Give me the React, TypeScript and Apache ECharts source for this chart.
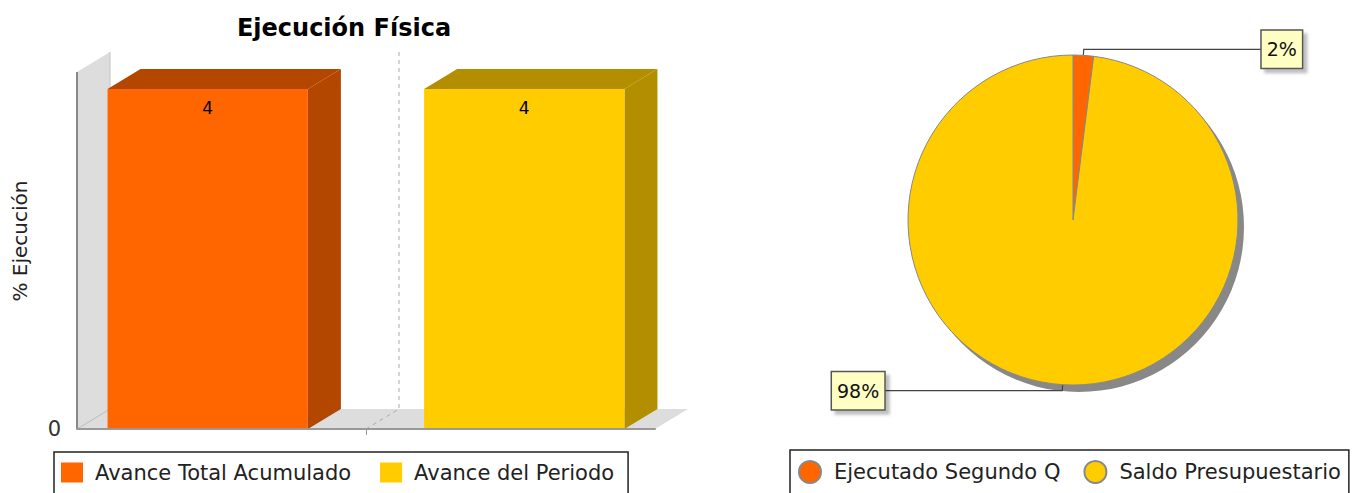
import React, { useEffect, useRef } from "react";
import * as echarts from "echarts";

const categories = [""];
const barSeriesNames = ["Avance Total Acumulado", "Avance del Periodo"];
const barValues = [4, 4];
const barColors = ["#ff6600", "#ffcc00"];
const barDarkColors = ["#b34700", "#b38f00"];

const pieNames = ["Ejecutado Segundo Q", "Saldo Presupuestario"];
const pieValues = [2, 98];
const pieColors = ["#ff6600", "#ffcc00"];

const yTickLabels = ["0"];

const FONT = "DejaVu Sans";
const DX = 33;
const DY = -20;
const BAR_FRAC = 200 / 577;
const GAP_FRAC = 116 / 577;

export default function App() {
  const ref = useRef<HTMLDivElement>(null);
  useEffect(() => {
    if (!ref.current) return;
    const chart = echarts.init(ref.current, undefined, { renderer: "svg" });

    const bgSeries: any = {
      type: "custom",
      name: "bg",
      silent: true,
      xAxisIndex: 0,
      yAxisIndex: 0,
      data: [[0, 0]],
      encode: { x: 0, y: 1 },
      z: 1,
      renderItem: (params: any, api: any) => {
        const cs = params.coordSys;
        const x = cs.x;
        const top = cs.y;
        const bottom = cs.y + cs.height;
        const right = cs.x + cs.width;
        const c = api.coord([0, 0]);
        const cx = c[0];
        return {
          type: "group",
          children: [
            {
              type: "polygon",
              shape: { points: [[x, top], [x + DX, top + DY], [x + DX, bottom + DY], [x, bottom]] },
              style: { fill: "#dddddd", stroke: null },
            },
            {
              type: "polygon",
              shape: { points: [[x, bottom], [x + DX, bottom + DY], [right + DX, bottom + DY], [right, bottom]] },
              style: { fill: "#dddddd", stroke: null },
            },
            {
              type: "line",
              shape: { x1: x, y1: bottom, x2: x + DX, y2: bottom + DY },
              style: { stroke: "#bbbbbb", lineWidth: 1 },
            },
            {
              type: "line",
              shape: { x1: x + DX, y1: top + DY, x2: x + DX, y2: bottom + DY },
              style: { stroke: "#c4c4c4", lineWidth: 1 },
            },
            {
              type: "line",
              shape: { x1: cx + DX, y1: top + DY, x2: cx + DX, y2: bottom + DY },
              style: { stroke: "#aaaaaa", lineWidth: 1, lineDash: [4, 4] },
            },
            {
              type: "line",
              shape: { x1: cx, y1: bottom, x2: cx + DX, y2: bottom + DY },
              style: { stroke: "#aaaaaa", lineWidth: 1, lineDash: [4, 4] },
            },
            {
              type: "line",
              shape: { x1: x, y1: top, x2: x, y2: bottom },
              style: { stroke: "#888888", lineWidth: 2 },
            },
          ],
        };
      },
    };

    const barSeries = barSeriesNames.map((name, i) => ({
      type: "custom",
      name,
      xAxisIndex: 0,
      yAxisIndex: 0,
      data: [[0, barValues[i]]],
      encode: { x: 0, y: 1 },
      itemStyle: { color: barColors[i] },
      z: 3,
      renderItem: (params: any, api: any) => {
        const v = api.value(1);
        const base = api.coord([api.value(0), 0]);
        const topPt = api.coord([api.value(0), v]);
        const band = api.size([1, 0])[0];
        const bw = band * BAR_FRAC;
        const gap = band * GAP_FRAC;
        const xl = i === 0 ? base[0] - gap / 2 - bw : base[0] + gap / 2;
        const xr = xl + bw;
        const yb = base[1];
        const yt = topPt[1];
        return {
          type: "group",
          children: [
            {
              type: "polygon",
              shape: { points: [[xr, yt], [xr + DX, yt + DY], [xr + DX, yb + DY], [xr, yb]] },
              style: { fill: barDarkColors[i], stroke: null },
            },
            {
              type: "polygon",
              shape: { points: [[xl, yt], [xl + DX, yt + DY], [xr + DX, yt + DY], [xr, yt]] },
              style: { fill: barDarkColors[i], stroke: null },
            },
            {
              type: "rect",
              shape: { x: xl, y: yt, width: bw, height: yb - yt },
              style: { fill: barColors[i], stroke: null },
            },
            {
              type: "text",
              x: (xl + xr) / 2,
              y: yt + 19,
              style: {
                text: String(v),
                fill: "#000",
                font: `17px "${FONT}"`,
                align: "center",
                verticalAlign: "middle",
              },
            },
          ],
        };
      },
    }));

    const option: any = {
      animation: false,
      backgroundColor: "#ffffff",
      textStyle: { fontFamily: FONT },
      title: {
        text: "Ejecución Física",
        left: 339,
        top: 11,
        textAlign: "center",
        textStyle: { fontFamily: FONT, fontSize: 24, fontWeight: "bold", color: "#000" },
      },
      grid: { left: 77, right: 701, top: 72, bottom: 64, containLabel: false },
      xAxis: {
        type: "category",
        data: categories,
        axisLine: { show: true, lineStyle: { color: "#999999", width: 2 } },
        axisTick: { show: true, alignWithLabel: true, length: 6, lineStyle: { color: "#999999" } },
        axisLabel: { show: false },
        splitLine: { show: false },
        z: 5,
      },
      yAxis: {
        type: "value",
        min: 0,
        max: 4.2,
        interval: 4.2,
        axisLine: { show: false },
        axisTick: { show: false },
        splitLine: { show: false },
        axisLabel: {
          showMaxLabel: false,
          margin: 16,
          fontSize: 21,
          color: "#333",
          fontFamily: FONT,
          formatter: (val: number) => (val === 0 ? yTickLabels[0] : ""),
        },
      },
      graphic: [
        {
          type: "text",
          x: 20,
          y: 241,
          rotation: Math.PI / 2,
          style: {
            text: "% Ejecución",
            font: `20px "${FONT}"`,
            fill: "#222",
            align: "center",
            verticalAlign: "middle",
          },
        },
      ],
      legend: [
        {
          data: barSeriesNames,
          left: 54,
          top: 452,
          icon: "rect",
          itemWidth: 22,
          itemHeight: 20,
          itemGap: 29,
          padding: [10, 14, 20, 7],
          borderColor: "#222",
          borderWidth: 1.5,
          selectedMode: false,
          textStyle: { fontFamily: FONT, fontSize: 21, color: "#222", padding: [0, 0, 0, 7] },
        },
        {
          data: pieNames,
          left: 790,
          top: 450,
          icon: "circle",
          itemWidth: 22,
          itemHeight: 22,
          itemGap: 23,
          padding: [10, 8, 20, 8],
          borderColor: "#222",
          borderWidth: 1.5,
          selectedMode: false,
          textStyle: { fontFamily: FONT, fontSize: 21, color: "#222", padding: [0, 0, 0, 8] },
        },
      ],
      series: [
        bgSeries,
        ...barSeries,
        {
          type: "pie",
          name: "sombra",
          silent: true,
          center: [1079, 227],
          radius: 165,
          z: 1,
          label: { show: false },
          labelLine: { show: false },
          emphasis: { disabled: true },
          itemStyle: { color: "#888888" },
          data: [{ name: "sombra", value: 1 }],
        },
        {
          type: "pie",
          name: "pie",
          center: [1073, 220],
          radius: 165,
          startAngle: 90,
          clockwise: true,
          z: 2,
          emphasis: { disabled: true },
          itemStyle: { borderColor: "#888888", borderWidth: 1 },
          color: pieColors,
          label: {
            show: true,
            position: "outside",
            formatter: (p: any) => `${Math.round(p.percent)}%`,
            fontFamily: FONT,
            fontSize: 19,
            lineHeight: 21,
            color: "#111",
            backgroundColor: "#ffffc4",
            borderColor: "#555555",
            borderWidth: 1.5,
            padding: [8, 5, 8, 5],
            shadowColor: "rgba(0,0,0,0.25)",
            shadowOffsetX: 4,
            shadowOffsetY: 4,
            shadowBlur: 3,
            distanceToLabelLine: 0,
          },
          labelLine: {
            show: true,
            length: 6,
            length2: 178,
            smooth: false,
            lineStyle: { color: "#444444", width: 1.2 },
          },
          data: pieNames.map((n, i) => ({ name: n, value: pieValues[i] })),
        },
      ],
    };
    chart.setOption(option);
    return () => chart.dispose();
  }, []);
  return (
    <div
      ref={ref}
      style={{ position: "absolute", left: 0, top: 0, width: 1356, height: 493 }}
    />
  );
}
